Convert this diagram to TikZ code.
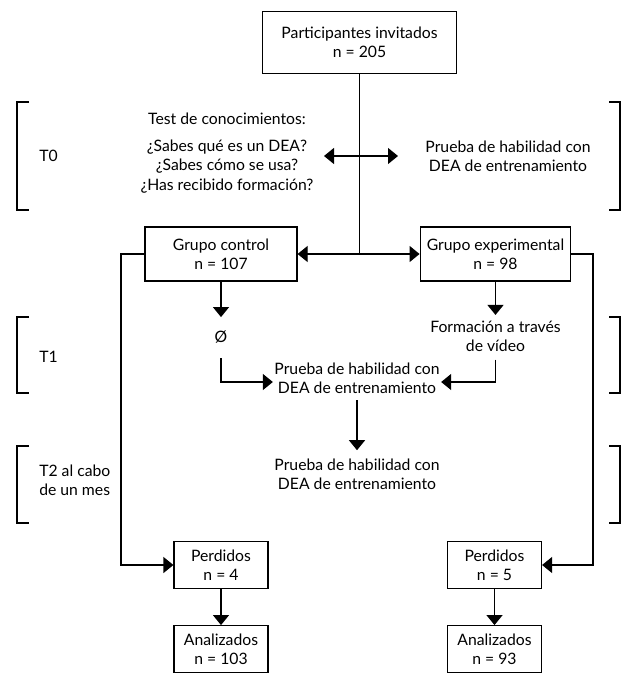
\documentclass[tikz,border=0pt]{standalone}
\usepackage{fontspec}
\setmainfont{Lato}
\usetikzlibrary{arrows.meta}

\begin{document}
\begin{tikzpicture}[x=0.75pt, y=-0.75pt,
    font=\fontsize{11.8}{14.5}\selectfont,
    box/.style={draw, line width=0.9pt, align=center, inner sep=0pt, minimum height=40.5pt},
    small/.style={box, minimum width=70.5pt, minimum height=35pt},
    txt/.style={align=center, inner sep=1pt},
    lbl/.style={anchor=west, align=left, inner sep=0pt},
    arr/.style={-{Triangle[length=7.5pt,width=12pt]}, line width=0.9pt},
    dbl/.style={{Triangle[length=7.5pt,width=12pt]}-{Triangle[length=7.5pt,width=12pt]}, line width=0.9pt},
    brk/.style={line width=0.9pt}
  ]
  \useasboundingbox (0,0) rectangle (629,674);
  \node[box, minimum width=146pt, minimum height=46pt] (part) at (359.5,42.5) {Participantes invitados\\n = 205};
  \node[box, minimum width=114pt] (gc) at (221,254) {Grupo control\\n = 107};
  \node[box, minimum width=113pt] (ge) at (495.5,254) {Grupo experimental\\n = 98};
  % time points
  \node[lbl] (t0) at (39,156) {T0};
  \node[lbl] (t1) at (39,357) {T1};
  \node[lbl] (t2) at (39,480.5) {T2 al cabo\\de un mes};
  \foreach \a/\b in {102/210, 317/393, 446/523} {
    \draw[brk] (29,\a) -- (17,\a) -- (17,\b) -- (29,\b);
    \draw[brk] (609,\a) -- (620,\a) -- (620,\b) -- (609,\b);
  }
  % T0
  \node[txt] (test) at (227,119) {Test de conocimientos:};
  \node[txt] (know) at (227,166.5) {¿Sabes qué es un DEA?\\¿Sabes cómo se usa?\\¿Has recibido formación?};
  \node[txt] (skill0) at (508,156.5) {Prueba de habilidad con\\DEA de entrenamiento};
  \coordinate (d0l) at (324,156);
  \coordinate (d0r) at (398,156);
  \draw[dbl] (d0l) -- (d0r);
  \coordinate (j) at (359.5,254);
  \draw[line width=0.9pt] (part) -- (j);
  \draw[arr] (j) -- (gc);
  \draw[arr] (j) -- (ge);
  % T1
  \node[txt] (none) at (221,337) {Ø};
  \node[txt] (video) at (495.5,336) {Formación a través\\de vídeo};
  \node[txt] (skill1) at (357,378) {Prueba de habilidad con\\DEA de entrenamiento};
  \draw[arr, shorten >=9pt] (gc) -- (none);
  \draw[arr, shorten >=3pt] (ge) -- (video);
  \draw[arr, shorten <=10pt] (none) |- ([yshift=-3pt]skill1.west);
  \draw[arr, shorten <=5pt] (video) |- ([yshift=-3pt]skill1.east);
  % T2
  \node[txt] (skill2) at (357,474) {Prueba de habilidad con\\DEA de entrenamiento};
  \draw[arr, shorten <=4pt, shorten >=5pt] (skill1) -- (skill2);
  \foreach \s/\x/\lost/\kept in {l/221/4/103, r/494.5/5/93} {
    \node[small] (p\s) at (\x,565) {Perdidos\\n = \lost};
    \node[small] (a\s) at (\x,649) {Analizados\\n = \kept};
    \draw[arr] (p\s) -- (a\s);
  }
  \coordinate (lrail) at (121,400);
  \coordinate (rrail) at (593,400);
  \draw[arr] (gc.west) -| (lrail) |- (pl.west);
  \draw[arr] (ge.east) -| (rrail) |- (pr.east);
\end{tikzpicture}
\end{document}
